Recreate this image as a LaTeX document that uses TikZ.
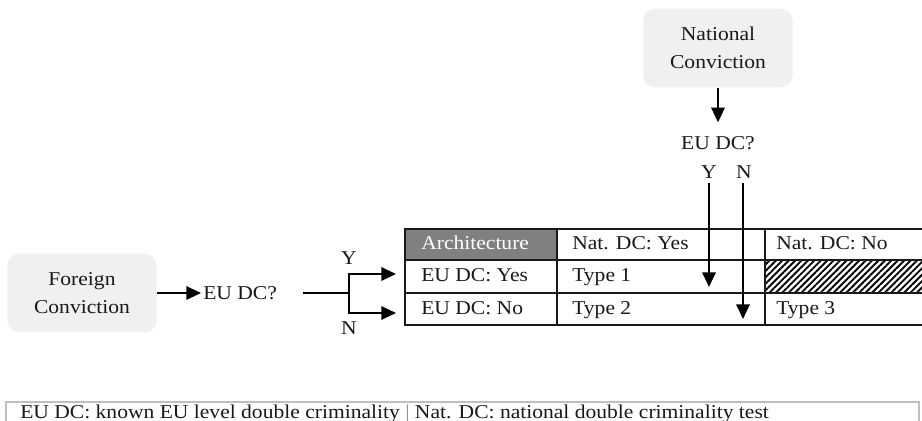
\documentclass[tikz,border=0pt]{standalone}
\usepackage{fontspec}
\setmainfont{Liberation Serif}[FakeStretch=1.1]
\usetikzlibrary{arrows.meta,patterns.meta,positioning}

\begin{document}
\begin{tikzpicture}[x=0.75pt,y=-0.75pt,
    every node/.style={font=\fontsize{14.7}{17}\selectfont,text=black!90},
    conv/.style={fill=black!6,rounded corners=9pt,align=center,
      font=\fontsize{14.7}{21}\selectfont,
      minimum width=112pt,minimum height=59pt,inner sep=2pt},
    celltext/.style={anchor=west,inner sep=0pt,text height=10pt,text depth=3pt},
    grid/.style={line width=1.7pt,black!90},
    tip/.style={line width=1.5pt,-{Triangle[length=11pt,width=10pt]}}]
  \useasboundingbox (0,0) rectangle (922,421);

  % cell fills
  \fill[black!50] (405,229) rectangle (557,260);
  \fill[pattern={Lines[angle=45,distance=3.4pt,line width=1.4pt]}] (765,260) rectangle (922,293);

  % grid
  \foreach \y in {229,260,293,325} {
    \draw[grid] (404,\y) -- (922,\y);
  }
  \foreach \x in {405,557} {
    \draw[grid] (\x,229) -- (\x,325);
  }
  \draw[grid,line width=2.2pt] (765,229) -- (765,325);

  % cell texts
  \node[celltext,text=white] (arch) at (421,245) {Architecture};
  \node[celltext] (natyes) at (572,245) {Nat. DC: Yes};
  \node[celltext] (natno) at (776,245) {Nat. DC: No};
  \node[celltext] (euyes) at (421,277) {EU DC: Yes};
  \node[celltext] (type1) at (572,277) {Type 1};
  \node[celltext] (euno) at (421,310) {EU DC: No};
  \node[celltext] (type2) at (572,310) {Type 2};
  \node[celltext] (type3) at (776,310) {Type 3};

  % foreign conviction
  \node[conv] (foreign) at (82,293) {Foreign\\Conviction};
  \node[anchor=west,inner sep=1.5pt] (q1) at (201,293) {EU DC?};
  \draw[tip] (foreign) -- (q1);
  \coordinate (fork) at (349,293);
  \coordinate (yin) at (396,274);
  \coordinate (nin) at (396,313);
  \draw[line width=2.2pt,shorten <=18pt] (q1) -- (fork);
  \draw[tip] (fork) |- (yin);
  \draw[tip] (fork) |- (nin);
  \node (ylab) at (349,258) {Y};
  \node (nlab) at (349,328) {N};

  % national conviction
  \node[conv] (national) at (718,48) {National\\Conviction};
  \node (q2) at (718,143) {EU DC?};
  \draw[tip,shorten >=7pt] (national) -- (q2);
  \node (y2) at (709,172) {Y};
  \node (n2) at (744,172) {N};
  \coordinate (y2end) at (709,287);
  \coordinate (n2end) at (743,319);
  \draw[tip] (y2) -- (y2end);
  \draw[tip] (n2.south -| n2end) -- (n2end);

  % legend
  \draw[black!25,line width=1.5pt] (6,424) -- (6,402) -- (919,402) -- (919,424);
  \node[anchor=west,inner sep=0pt] (legend) at (20,414)
    {EU DC: known EU level double criminality {\color{black!45}|} Nat. DC: national double criminality test};
\end{tikzpicture}
\end{document}
